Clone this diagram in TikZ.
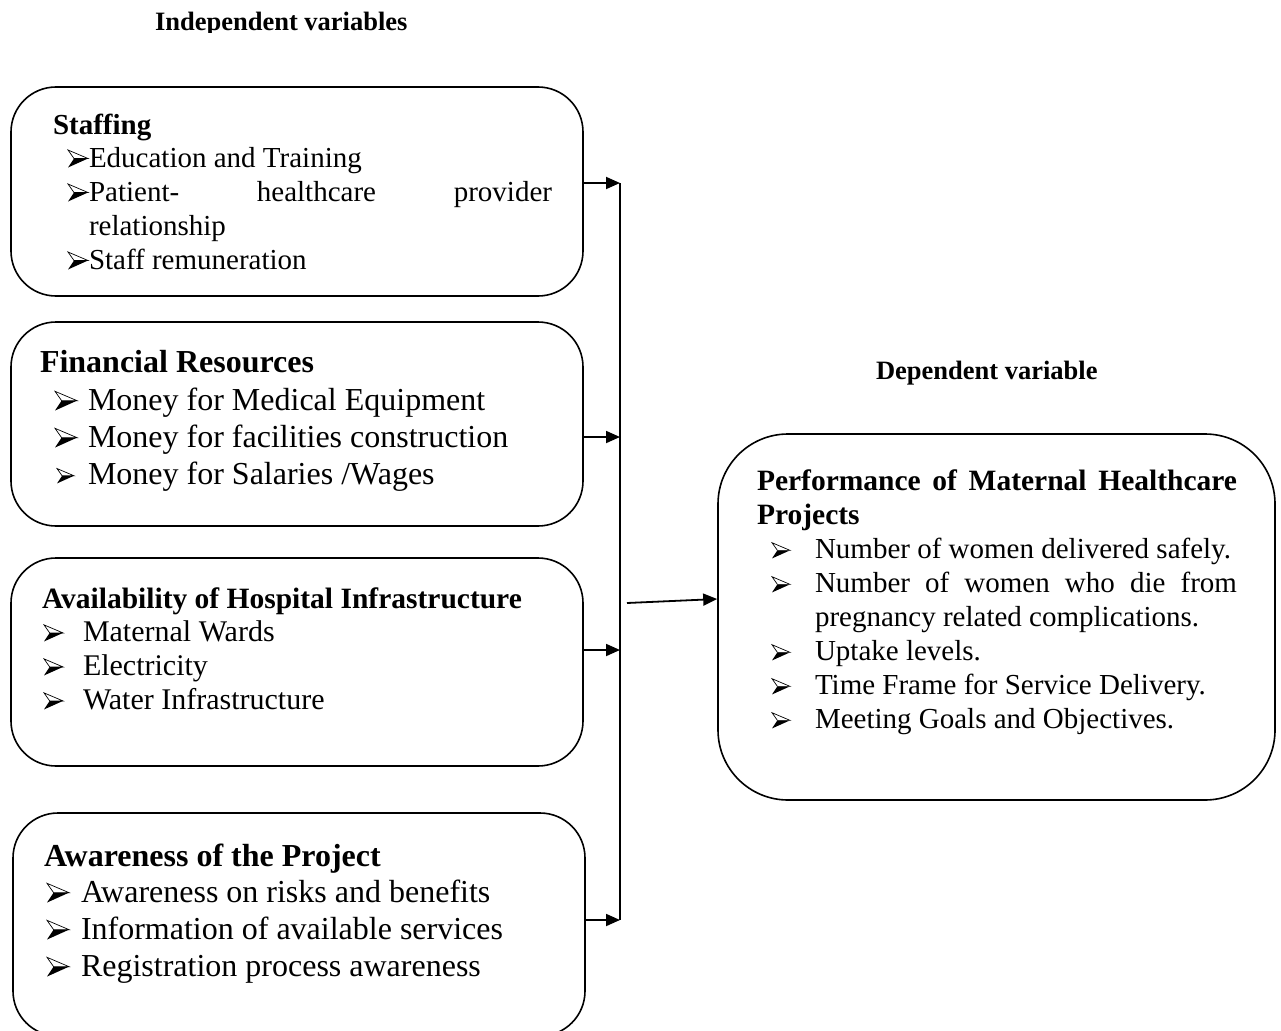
\documentclass[tikz,border=0pt]{standalone}
\usepackage{fontspec}
\setmainfont{Liberation Serif}
\usetikzlibrary{arrows.meta}

\begin{document}
\begin{tikzpicture}[x=1pt,y=-1pt,
  box/.style={draw, line width=1.6pt, rounded corners=45pt, inner sep=0pt},
  txt/.style={anchor=base west, inner sep=0pt, outer sep=0pt},
  hdS/.style={txt, font=\fontsize{26.5}{30}\selectfont\bfseries},
  hdA/.style={txt, font=\fontsize{29}{33}\selectfont\bfseries},
  hdB/.style={txt, font=\fontsize{32}{36}\selectfont\bfseries},
  hdC/.style={txt, font=\fontsize{29.5}{33}\selectfont\bfseries},
  itA/.style={txt, font=\fontsize{29}{33}\selectfont},
  itB/.style={txt, font=\fontsize{32}{36}\selectfont},
  itC/.style={txt, font=\fontsize{29}{33}\selectfont},
  itD/.style={txt, font=\fontsize{30}{34}\selectfont},
  link/.style={line width=1.8pt, -{Triangle[length=14pt,width=12pt]}},
  rail/.style={line width=1.8pt},
  % list bullet: a right-pointing arrowhead, light upper face, black lower face
  pics/arrowbul/.style={code={
    \fill[black] (6,-8.5) -- (20,-8.5) -- (0,0.5) -- cycle;
    \draw[line width=0.7pt, line join=miter, fill=white] (0,-17) -- (20,-8.5) -- (6,-8.5) -- cycle;
  }}]

\clip (0,0) rectangle (1281,1030);

% headings above the columns
\begin{scope}
  \clip (0,0) rectangle (1281,33);
  \node[hdS] (indep) at (155,31) {Independent variables};
\end{scope}
\node[hdS] (dep) at (876,379) {Dependent variable};

% independent variable boxes
\node[box, minimum width=572pt, minimum height=209pt] (staff) at (297,191.5) {};
\node[box, minimum width=572pt, minimum height=204pt] (fin) at (297,424) {};
\node[box, minimum width=572pt, minimum height=208pt] (infra) at (297,662) {};
\node[box, minimum width=572pt, minimum height=223pt] (aware) at (299,924.5) {};

% dependent variable box
\node[box, rounded corners=70pt, minimum width=557pt, minimum height=366pt] (perf) at (996.5,617) {};

% Staffing
\node[hdA] (s0) at (53,134) {Staffing};
\pic at (68,167) {arrowbul};
\node[itA] (s1) at (89,167) {Education and Training};
\pic at (68,201) {arrowbul};
\node[itA] (s2) at (89,201) {\makebox[463pt][s]{Patient- healthcare provider}};
\node[itA] (s3) at (89,235) {relationship};
\pic at (68,269) {arrowbul};
\node[itA] (s4) at (89,269) {Staff remuneration};

% Financial Resources
\node[hdB] (f0) at (40,372) {Financial Resources};
\pic[scale=1.1] at (55,410) {arrowbul};
\node[itB] (f1) at (88,410) {Money for Medical Equipment};
\pic[scale=1.1] at (55,447) {arrowbul};
\node[itB] (f2) at (88,447) {Money for facilities construction};
\pic[scale=0.85] at (57,483) {arrowbul};
\node[itB] (f3) at (88,484) {Money for Salaries /Wages};

% Availability of Hospital Infrastructure
\node[hdC] (h0) at (42,608) {Availability of Hospital Infrastructure};
\pic[scale=0.95] at (44,641) {arrowbul};
\node[itD] (h1) at (83,641) {Maternal Wards};
\pic[scale=0.95] at (44,675) {arrowbul};
\node[itD] (h2) at (83,675) {Electricity};
\pic[scale=0.95] at (44,709) {arrowbul};
\node[itD] (h3) at (83,709) {Water Infrastructure};

% Awareness of the Project
\node[hdB] (a0) at (44,866) {Awareness of the Project};
\pic[scale=1.1] at (47,902) {arrowbul};
\node[itB] (a1) at (81,902) {Awareness on risks and benefits};
\pic[scale=1.1] at (47,939) {arrowbul};
\node[itB] (a2) at (81,939) {Information of available services};
\pic[scale=1.1] at (47,976) {arrowbul};
\node[itB] (a3) at (81,976) {Registration process awareness};

% Performance of Maternal Healthcare Projects
\node[hdC] (p0) at (757,490) {\makebox[480pt][s]{Performance of Maternal Healthcare}};
\node[hdC] (p0b) at (757,524) {Projects};
\pic[scale=0.9] at (772,558) {arrowbul};
\node[itC] (p1) at (815,558) {Number of women delivered safely.};
\pic[scale=0.9] at (772,592) {arrowbul};
\node[itC] (p2) at (815,592) {\makebox[422pt][s]{Number of women who die from}};
\node[itC] (p2b) at (815,626) {pregnancy related complications.};
\pic[scale=0.9] at (772,660) {arrowbul};
\node[itC] (p3) at (815,660) {Uptake levels.};
\pic[scale=0.9] at (772,694) {arrowbul};
\node[itC] (p4) at (815,694) {Time Frame for Service Delivery.};
\pic[scale=0.9] at (772,728) {arrowbul};
\node[itC] (p5) at (815,728) {Meeting Goals and Objectives.};

% connectors
\coordinate (jt) at (620,183);
\coordinate (jf) at (620,437);
\coordinate (ji) at (620,650);
\coordinate (jb) at (620,920);
\coordinate (jo) at (627,603);
\coordinate (plvl) at (0,599);

\draw[rail] (jt) -- (jb);
\draw[link] (staff.east |- jt) -- (jt);
\draw[link] (fin.east |- jf) -- (jf);
\draw[link] (infra.east |- ji) -- (ji);
\draw[link] (aware.east |- jb) -- (jb);
\draw[link] (jo) -- (perf.west |- plvl);
\end{tikzpicture}
\end{document}
